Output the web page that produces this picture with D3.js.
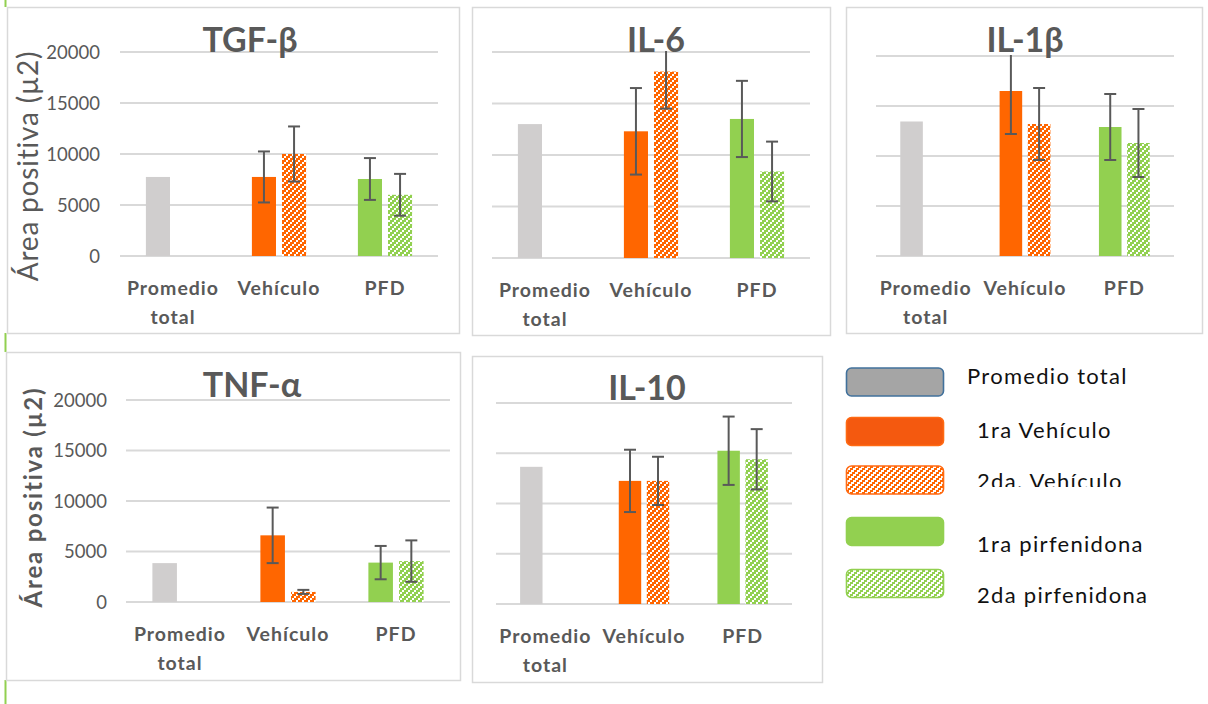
<!DOCTYPE html>
<html>
<head>
<meta charset="utf-8">
<script src="https://cdn.jsdelivr.net/npm/d3@7"></script>
<style>
  body { margin: 0; background: #fff; }
  svg { display: block; font-family: Lato, "Open Sans", sans-serif; }
</style>
</head>
<body>
<svg id="chart" width="1208" height="704"></svg>
<script>
// ---- data: mean positive area (µ2) and error per group, one entry per cytokine ----
const cytokines = ["TGF-β", "IL-6", "IL-1β", "TNF-α", "IL-10"];
const categories = ["Promedio total", "Vehículo", "PFD"];
const yTicks = [0, 5000, 10000, 15000, 20000];
const promedioTotal   = [7750, 13000, 13450, 3850, 13650];
const vehiculo1       = [7750, 12300, 16500, 6600, 12250];
const vehiculo1Err    = [2500, 4200, 4300, 2750, 3100];
const vehiculo2       = [10000, 18100, 13200, 1000, 12250];
const vehiculo2Err    = [2700, 3600, 3600, 200, 2400];
const pirfenidona1    = [7550, 13500, 12900, 3900, 15250];
const pirfenidona1Err = [2050, 3700, 3300, 1650, 3400];
const pirfenidona2    = [6000, 8400, 11300, 4050, 14400];
const pirfenidona2Err = [2050, 2900, 3400, 2050, 3000];
const legendLabels = ["Promedio total", "1ra Vehículo", "2da. Vehículo", "1ra pirfenidona", "2da pirfenidona"];
const yAxisTitle = "Área positiva (µ2)";

// ---- styles ----
const TEXT = "#595959";
const GRID = "#d9d9d9";
const GRAY_BAR = "#d0cece";
const ORANGE = "#ff6600";
const GREEN = "#92d050";

// ---- layout of the five panels ----
const panels = [
  { box: [7, 7, 459, 333],   plot: [120, 438, 256, 52],  title: [250, 52],
    yAxis: { tickX: 100, labelX: 38, labelY: 166, size: 28, weight: "normal", spacing: 0.8 } },
  { box: [472, 7, 830, 335], plot: [492, 810, 258, 52],  title: [656, 52] },
  { box: [846, 7, 1202, 333], plot: [876, 1174, 256, 56], title: [1025, 52] },
  { box: [6, 352, 460, 680], plot: [126, 450, 602, 400], title: [252, 397],
    yAxis: { tickX: 107, labelX: 42, labelY: 497, size: 24, weight: "bold", spacing: 1.8 } },
  { box: [472, 356, 822, 682], plot: [496, 792, 604, 403], title: [647, 400] }
];

const svg = d3.select("#chart");
const defs = svg.append("defs");

// stair-stepped diagonal hatch for the second measurement
function hatch(id, color, stripe) {
  const p = defs.append("pattern")
    .attr("id", id).attr("patternUnits", "userSpaceOnUse")
    .attr("width", 6).attr("height", 6);
  p.append("rect").attr("width", 6).attr("height", 6).attr("fill", "#fff");
  [0, 1, 2].forEach(k => {
    [0, -6].forEach(shift => {
      p.append("rect")
        .attr("x", 4 - 2 * k + shift).attr("y", 2 * k)
        .attr("width", stripe).attr("height", 2)
        .attr("fill", color).attr("shape-rendering", "crispEdges");
    });
  });
}
hatch("hatchOrange", ORANGE, 4);
hatch("hatchGreen", GREEN, 4);
hatch("legendHatchOrange", ORANGE, 3);
hatch("legendHatchGreen", GREEN, 3);

// green rule along the left edge
svg.append("line").attr("x1", 5.5).attr("x2", 5.5).attr("y1", 0).attr("y2", 704)
  .attr("stroke", GREEN).attr("stroke-width", 2);

panels.forEach((pn, i) => {
  const g = svg.append("g");
  const [bx0, by0, bx1, by1] = pn.box;
  const [px0, px1, py0, py1] = pn.plot;

  g.append("rect").attr("x", bx0 - 3).attr("y", by0).attr("width", bx1 - bx0 + 3).attr("height", by1 - by0)
    .attr("fill", "#fff");
  g.append("rect").attr("x", bx0 + 0.5).attr("y", by0 + 0.5).attr("width", bx1 - bx0).attr("height", by1 - by0)
    .attr("fill", "none").attr("stroke", GRID).attr("stroke-width", 1.5);

  const y = d3.scaleLinear().domain([0, 20000]).range([py0, py1]);
  const x0 = d3.scaleBand().domain(categories).range([px0, px1]).padding(0);
  const x1 = d3.scaleBand().domain([0, 1]).range([0, x0.bandwidth()])
    .paddingInner(0.2).paddingOuter(0.86);

  // gridlines
  g.append("g").selectAll("line").data(yTicks).join("line")
    .attr("x1", px0).attr("x2", px1)
    .attr("y1", d => y(d)).attr("y2", d => y(d))
    .attr("stroke", GRID).attr("stroke-width", 2);

  // tick labels and axis title
  if (pn.yAxis) {
    const yAxis = d3.axisLeft(y).tickValues(yTicks).tickSize(0).tickPadding(0).tickFormat(d3.format("d"));
    const ax = g.append("g").attr("transform", `translate(${pn.yAxis.tickX},0)`).call(yAxis);
    ax.select(".domain").remove();
    ax.selectAll("text").attr("fill", TEXT).attr("font-size", 18.5)
      .attr("font-family", "Lato, sans-serif").attr("dy", "0.35em");
    g.append("text")
      .attr("transform", `translate(${pn.yAxis.labelX},${pn.yAxis.labelY}) rotate(-90)`)
      .attr("text-anchor", "middle")
      .attr("fill", TEXT).attr("font-size", pn.yAxis.size).attr("font-weight", pn.yAxis.weight)
      .attr("letter-spacing", pn.yAxis.spacing)
      .text(yAxisTitle);
  }

  // title
  g.append("text").attr("x", pn.title[0]).attr("y", pn.title[1])
    .attr("text-anchor", "middle").attr("fill", TEXT)
    .attr("font-size", 34).attr("font-weight", "bold").text(cytokines[i]);

  const groups = [
    { cat: categories[0], bars: [{ slot: 0, v: promedioTotal[i], fill: GRAY_BAR }] },
    { cat: categories[1], bars: [
      { slot: 0, v: vehiculo1[i], e: vehiculo1Err[i], fill: ORANGE },
      { slot: 1, v: vehiculo2[i], e: vehiculo2Err[i], fill: "url(#hatchOrange)" }] },
    { cat: categories[2], bars: [
      { slot: 0, v: pirfenidona1[i], e: pirfenidona1Err[i], fill: GREEN },
      { slot: 1, v: pirfenidona2[i], e: pirfenidona2Err[i], fill: "url(#hatchGreen)" }] }
  ];
  const bars = groups.flatMap(gr => gr.bars.map(b => ({ ...b, cat: gr.cat })));

  g.append("g").selectAll("rect").data(bars).join("rect")
    .attr("x", d => x0(d.cat) + x1(d.slot))
    .attr("width", x1.bandwidth())
    .attr("y", d => y(d.v))
    .attr("height", d => y(0) - y(d.v))
    .attr("fill", d => d.fill);

  // error bars, clipped to the plotting range
  const clipId = "clip" + i;
  defs.append("clipPath").attr("id", clipId).append("rect")
    .attr("x", px0 - 10).attr("y", py1 - 1).attr("width", px1 - px0 + 20).attr("height", py0 - py1 + 2);
  const eg = g.append("g").attr("clip-path", `url(#${clipId})`)
    .selectAll("g").data(bars.filter(b => b.e != null)).join("g")
    .attr("stroke", TEXT).attr("stroke-width", 2);
  const cx = d => x0(d.cat) + x1(d.slot) + x1.bandwidth() / 2;
  eg.append("line").attr("x1", cx).attr("x2", cx)
    .attr("y1", d => y(d.v + d.e)).attr("y2", d => y(d.v - d.e));
  [1, -1].forEach(s => {
    eg.append("line").attr("x1", d => cx(d) - 6).attr("x2", d => cx(d) + 6)
      .attr("y1", d => y(d.v + s * d.e)).attr("y2", d => y(d.v + s * d.e));
  });

  // category labels
  const lbl = g.append("g").selectAll("text").data(categories).join("text")
    .attr("text-anchor", "middle").attr("fill", TEXT)
    .attr("font-size", 19.5).attr("font-weight", "bold").attr("letter-spacing", 1);
  lbl.selectAll("tspan").data(d => d.split(" ")).join("tspan")
    .attr("x", function () { const c = d3.select(this.parentNode).datum(); return x0(c) + x0.bandwidth() / 2; })
    .attr("y", (d, k) => py0 + 39 + k * 29)
    .text(d => d);
});

// ---- legend ----
const legendFill = ["#a5a5a5", "#f4590f", "url(#legendHatchOrange)", GREEN, "url(#legendHatchGreen)"];
const legendStroke = ["#41719c", "#ff6a13", "#ff6a13", GREEN, GREEN];
const legendBoxY = [368, 417.5, 466, 517.5, 569.5];
const legendTextX = [967, 977, 977, 977, 977];
const legendTextY = [383.5, 438, 489, 552, 602.5];

defs.append("clipPath").attr("id", "legendCut").append("rect")
  .attr("x", 960).attr("y", 455).attr("width", 240).attr("height", 32);

const lg = svg.append("g").selectAll("g").data(legendLabels).join("g");
lg.append("rect")
  .attr("x", 846.5).attr("y", (d, k) => legendBoxY[k])
  .attr("width", 97).attr("height", 28).attr("rx", 5)
  .attr("fill", (d, k) => legendFill[k])
  .attr("stroke", (d, k) => legendStroke[k]).attr("stroke-width", 1.6);
lg.append("text")
  .attr("x", (d, k) => legendTextX[k]).attr("y", (d, k) => legendTextY[k])
  .attr("fill", "#111").attr("font-size", 22).attr("letter-spacing", 1.3)
  .attr("clip-path", (d, k) => k === 2 ? "url(#legendCut)" : null)
  .text(d => d);
</script>
</body>
</html>
